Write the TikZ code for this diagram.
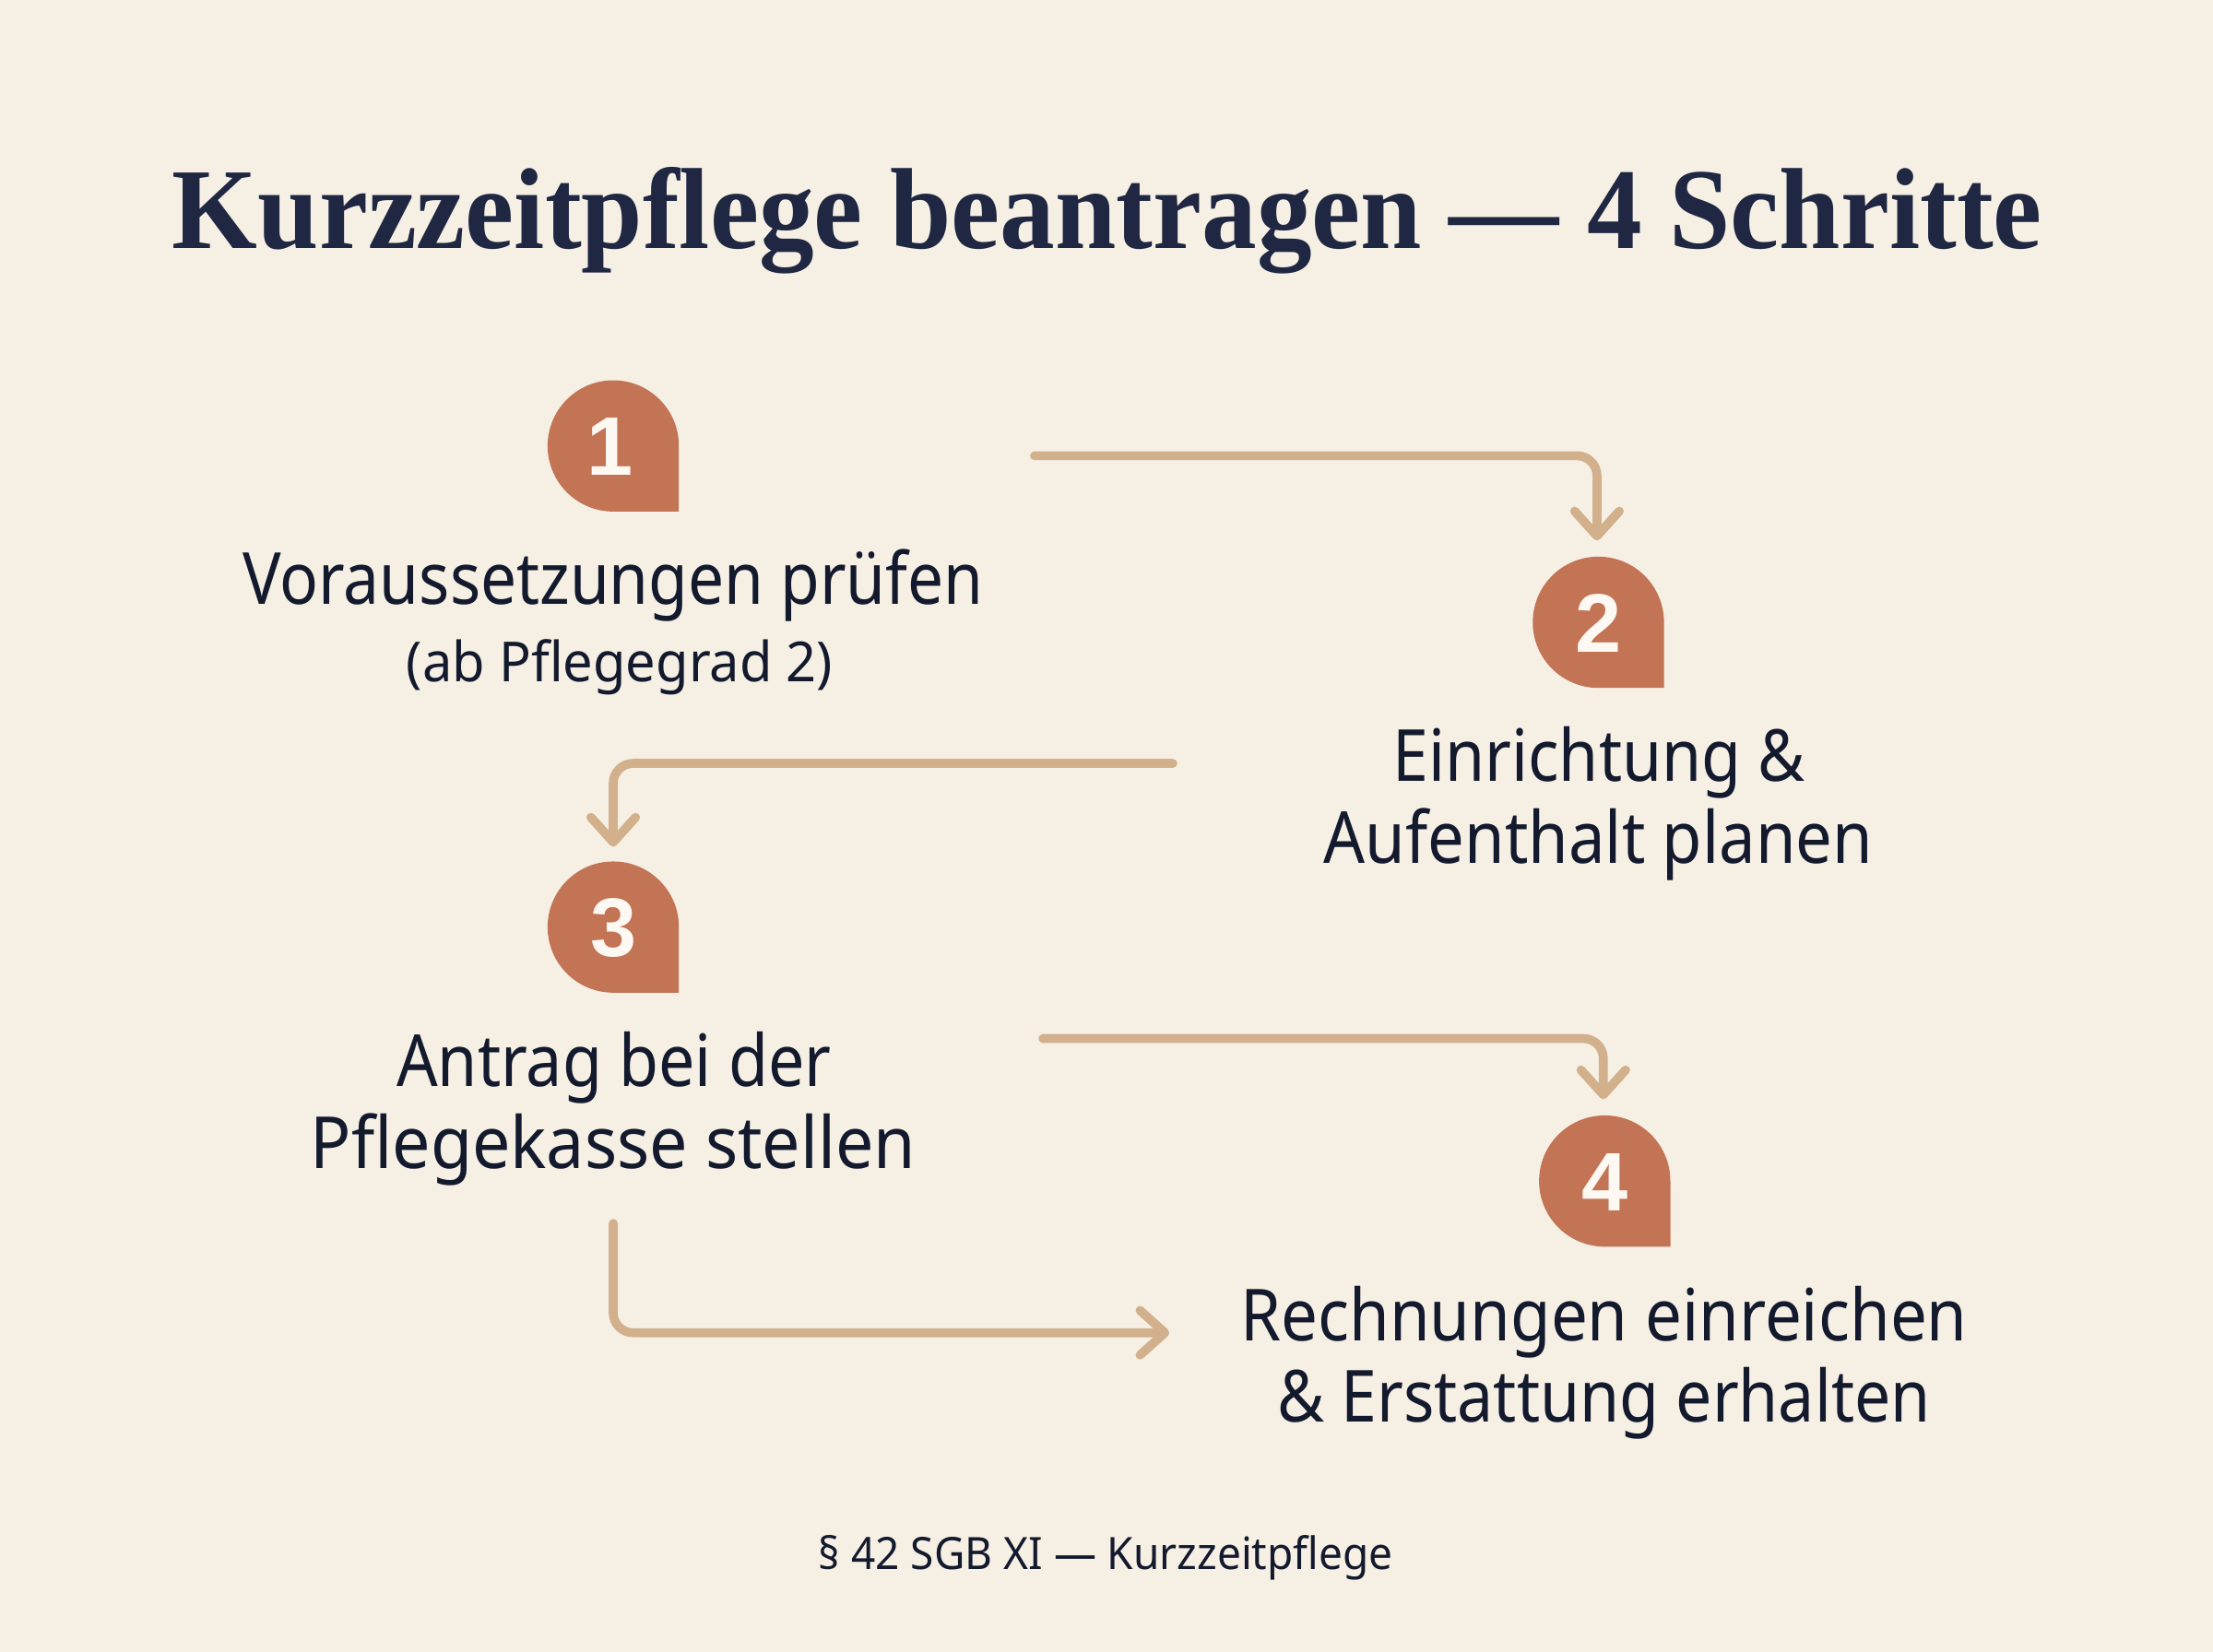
\documentclass[tikz,border=0pt]{standalone}
\usepackage{fontspec}
\setmainfont{Noto Sans}
\newfontfamily\titlefont{Liberation Serif}
\newfontfamily\numfont{Liberation Sans}
\usepackage{graphicx}
\usetikzlibrary{arrows.meta}
\definecolor{bgc}{HTML}{F6EFE4}
\definecolor{badgec}{HTML}{C27455}
\definecolor{arrowc}{HTML}{D1B08B}
\definecolor{textc}{HTML}{141A2E}
\definecolor{titlec}{HTML}{1F2742}
\definecolor{numc}{HTML}{FDF8F2}
\newcommand\fitw[2]{\resizebox{#1}{\height}{#2}}
\tikzset{
  body/.style={anchor=base, inner sep=0pt, text=textc, font=\fontsize{29}{34}\selectfont},
  subtext/.style={anchor=base, inner sep=0pt, text=textc, font=\fontsize{22.3}{26}\selectfont},
  foot/.style={anchor=base, inner sep=0pt, text=textc, font=\fontsize{18}{22}\selectfont},
  titletext/.style={anchor=base, inner sep=0pt, text=titlec, font=\titlefont\bfseries\fontsize{46.5}{52}\selectfont},
  num/.style={anchor=base, inner sep=0pt, text=numc, font=\numfont\bfseries\fontsize{33.5}{36}\selectfont},
  flow/.style={draw=arrowc, line width=3.6pt, line cap=round, line join=round, rounded corners=8pt,
    -{Straight Barb[length=10pt,width=18pt,line cap=round,line join=round]}},
}
\newcommand\badge[2]{%
  \fill[badgec] (#1+46.5,#2) -- (#1+46.5,#2+46.5) -- (#1,#2+46.5)
    arc[start angle=90, end angle=360, radius=46.5] -- cycle;
}
\begin{document}
\begin{tikzpicture}[x=0.02cm,y=-0.02cm]
\fill[bgc] (0,0) rectangle (1568,1170.7);
\useasboundingbox (0,0) rectangle (1568,1170.7);

% title
\node[titletext] (title) at (784.5,176) {\fitw{26.5cm}{Kurzzeitpflege beantragen — 4 Schritte}};

% badges
\badge{434.5}{316}
\badge{1132.5}{441}
\badge{434.5}{657}
\badge{1137}{837}
\node[num] (n1) at (432,337) {1};
\node[num] (n2) at (1132.5,462) {2};
\node[num] (n3) at (434.5,678) {3};
\node[num] (n4) at (1137,858) {4};

% step texts
\node[body] (t1a) at (434.5,428) {\fitw{10.5cm}{Voraussetzungen prüfen}};
\node[subtext] (t1b) at (439,483) {\fitw{6.04cm}{(ab Pflegegrad 2)}};
\node[body] (t2a) at (1133,554) {\fitw{5.84cm}{Einrichtung \&}};
\node[body] (t2b) at (1132.5,612) {\fitw{7.78cm}{Aufenthalt planen}};
\node[body] (t3a) at (435,770) {\fitw{6.16cm}{Antrag bei der}};
\node[body] (t3b) at (434.5,828) {\fitw{8.58cm}{Pflegekasse stellen}};
\node[body] (t4a) at (1136.5,950) {\fitw{10.3cm}{Rechnungen einreichen}};
\node[body] (t4b) at (1136.5,1008) {\fitw{9.26cm}{\& Erstattung erhalten}};

% footer
\node[foot] (foot) at (783.5,1112.6) {\fitw{8.14cm}{§ 42 SGB XI — Kurzzeitpflege}};

% connectors
\coordinate (a1s) at (733,323);
\coordinate (a1c) at (1131.5,323);
\coordinate (a1e) at (1131.5,383);
\coordinate (a2s) at (831,541);
\coordinate (a2c) at (434.5,541);
\coordinate (a2e) at (434.5,600);
\coordinate (a3s) at (739,736);
\coordinate (a3c) at (1136,736);
\coordinate (a3e) at (1136,779);
\coordinate (a4s) at (434.5,867);
\coordinate (a4c) at (434.5,944.5);
\coordinate (a4e) at (828.5,944.5);
\draw[flow] (a1s) -- (a1c) -- (a1e);
\draw[flow] (a2s) -- (a2c) -- (a2e);
\draw[flow] (a3s) -- (a3c) -- (a3e);
\draw[flow] (a4s) -- (a4c) -- (a4e);
\end{tikzpicture}
\end{document}
